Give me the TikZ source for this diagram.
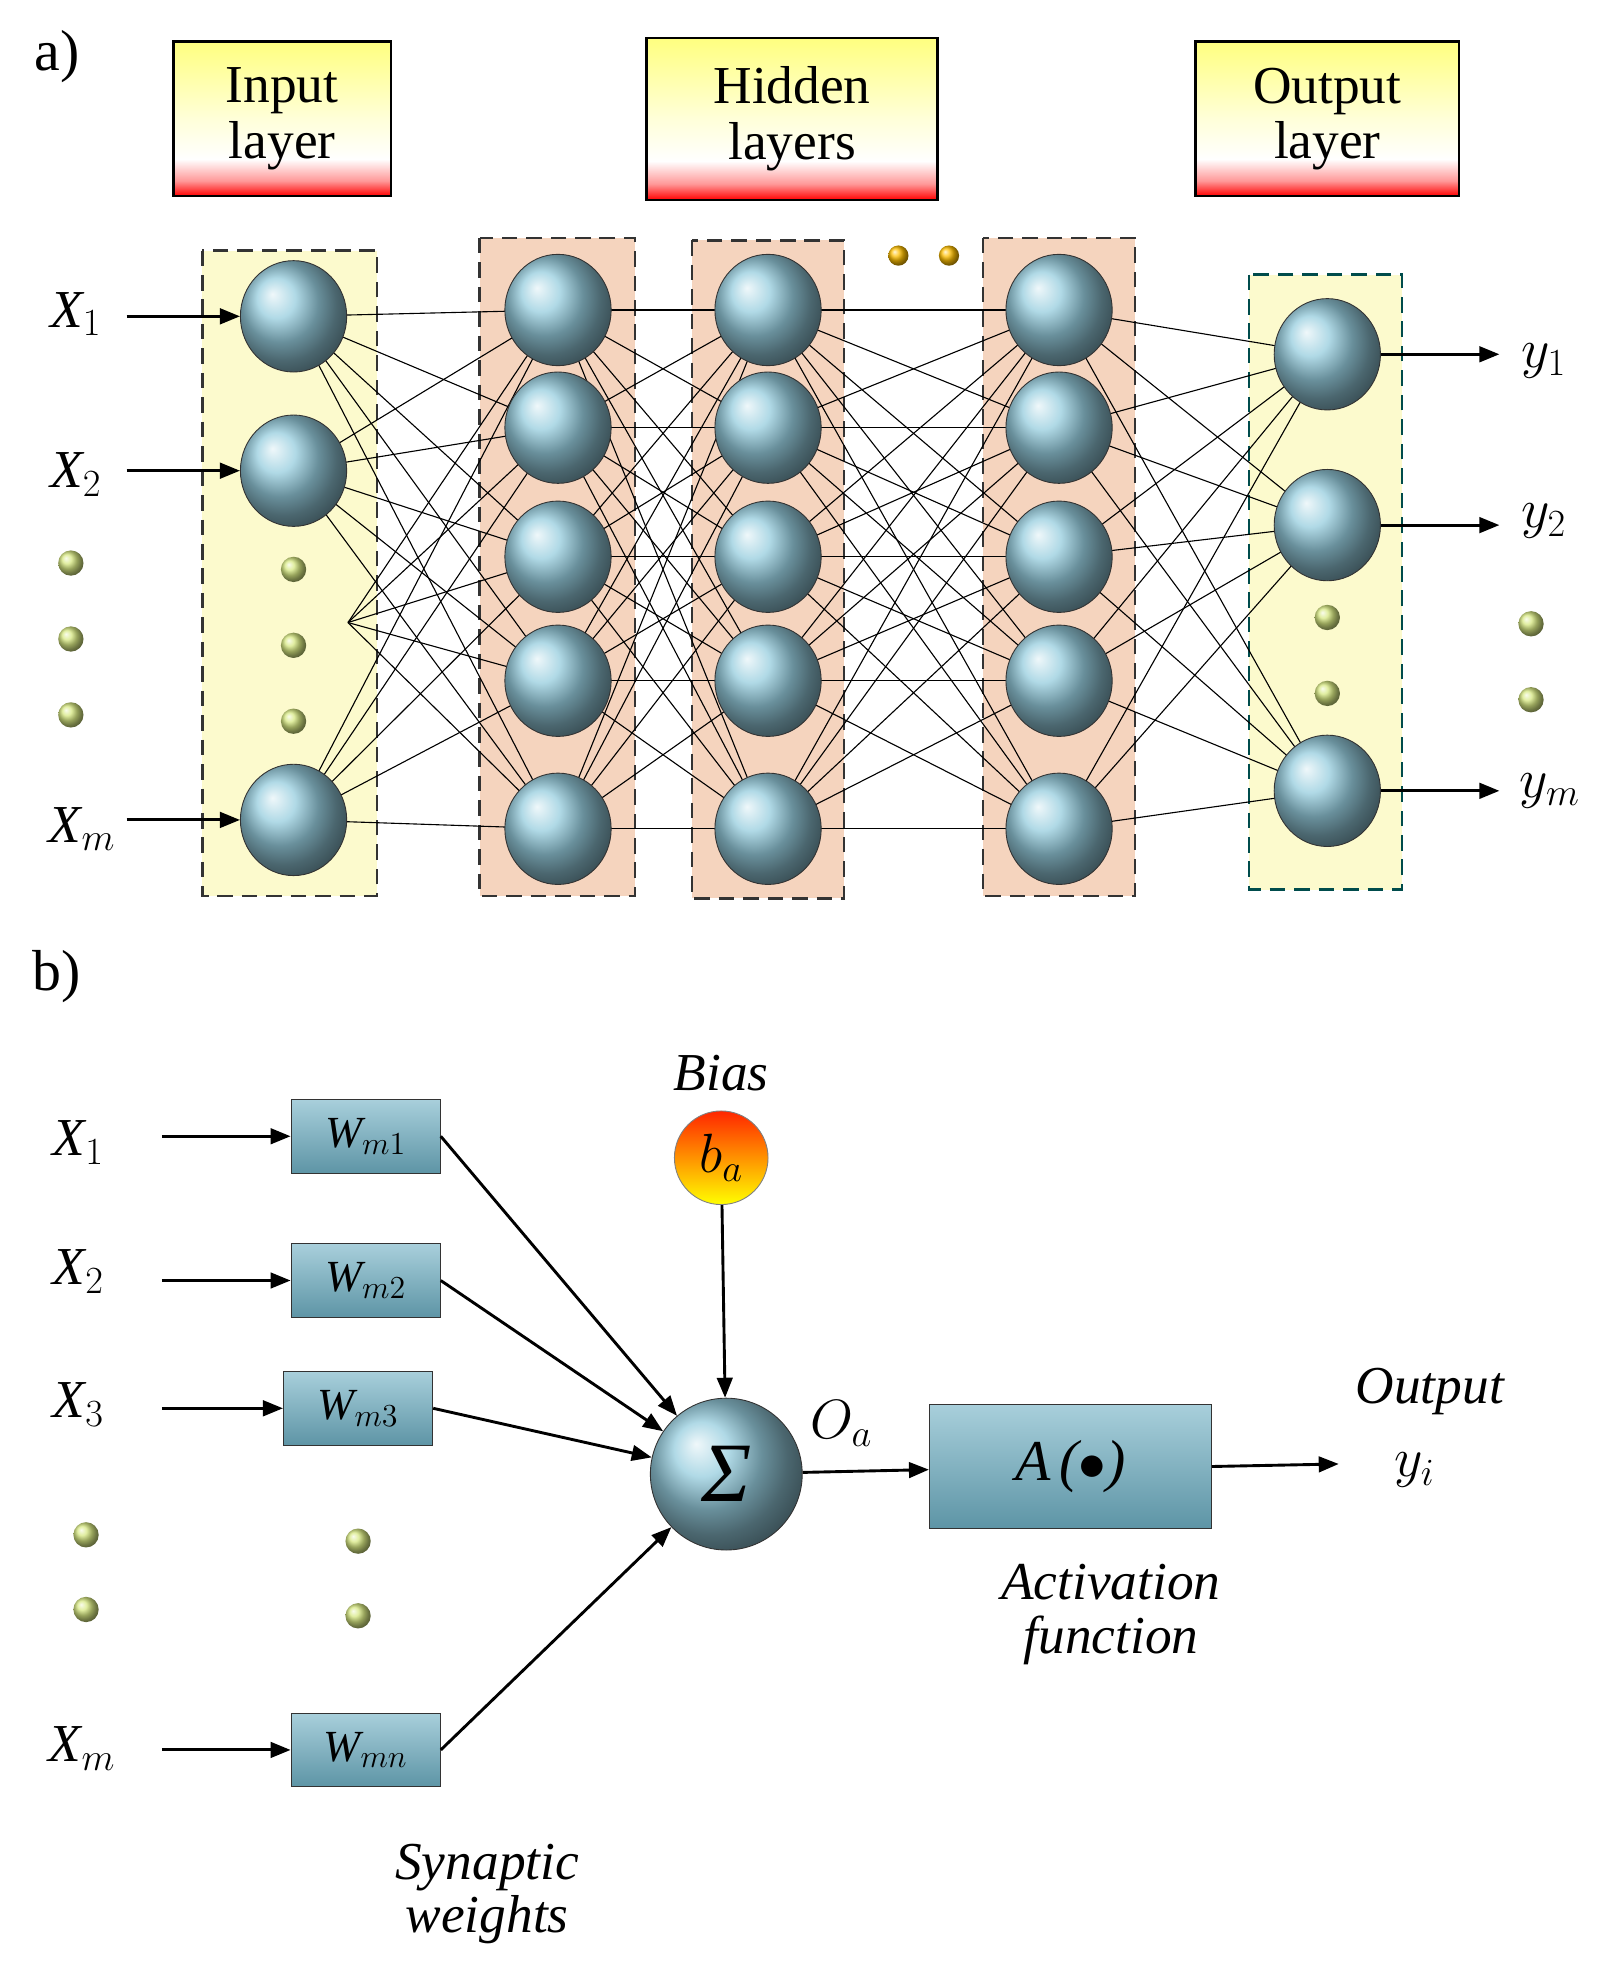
\documentclass[tikz,border=0pt]{standalone}
\usepackage{fontspec}
\setmainfont{Liberation Serif}
\usetikzlibrary{arrows.meta,shapes.geometric}
\definecolor{nb}{RGB}{150,205,222}
\definecolor{wb}{RGB}{110,175,195}
\definecolor{peach}{RGB}{245,212,190}
\definecolor{ly}{RGB}{252,250,205}
\definecolor{dotg}{RGB}{215,232,130}
\pgfdeclareverticalshading{hdrsh}{100bp}{color(0bp)=(red);color(25bp)=(red);color(30bp)=(red!40!white);color(37bp)=(white);color(50bp)=(yellow!15!white);color(75bp)=(yellow!50!white);color(100bp)=(yellow!50!white)}
\begin{document}
\begin{tikzpicture}[x=0.02cm,y=-0.02cm,
 neuron/.style={ellipse,minimum width=84*0.02cm,minimum height=88*0.02cm,draw=black!80,shading=ball,ball color=nb,inner sep=0},
 hdr/.style={draw=black,line width=1.2pt,shading=hdrsh,font=\fontsize{24}{25}\selectfont,align=center,inner sep=0},
 lay/.style={draw=black!80,dash pattern=on 7pt off 4pt,line width=1.1pt},
 gdot/.style={circle,minimum size=20*0.02cm,inner sep=0,shading=ball,ball color=dotg},
 odot/.style={circle,minimum size=16*0.02cm,inner sep=0,shading=ball,ball color=orange!50!yellow},
 lab/.style={font=\fontsize{24}{24}\selectfont\itshape},
 arr/.style={-{Triangle[length=9pt,width=7pt]},line width=1.3pt},
 conn/.style={line width=0.5pt},
 wbox/.style={draw=black!80,shading=axis,top color=wb!60!white,bottom color=wb!85!black,minimum width=118*0.02cm,minimum height=58*0.02cm,inner sep=0,font=\fontsize{20}{20}\selectfont\itshape}]
\useasboundingbox (0,0) rectangle (1270,1568);
% part a
\node[font=\fontsize{26}{26}\selectfont] (la) at (45,45) {a)};
\node[hdr,minimum width=172*0.02cm,minimum height=122*0.02cm] (h1) at (223,94) {Input\\layer};
\node[hdr,minimum width=230*0.02cm,minimum height=128*0.02cm] (h2) at (626,94) {Hidden\\layers};
\node[hdr,minimum width=208*0.02cm,minimum height=122*0.02cm] (h3) at (1049,94) {Output\\layer};
\draw[lay,fill=ly] (160,198) rectangle (298,708);
\draw[lay,fill=peach] (379,188) rectangle (502,708);
\draw[lay,fill=peach] (547,190) rectangle (667,710);
\draw[lay,fill=peach] (777,188) rectangle (897,708);
\draw[lay,draw=teal!60!black,fill=ly] (987,217) rectangle (1108,703);
\coordinate (imid) at (275,492);
\foreach \i/\y in {1/250,2/372,3/648} \coordinate (I\i) at (232,\y);
\foreach \i/\y in {1/245,2/338,3/440,4/538,5/655}{
 \coordinate (A\i) at (441,\y); \coordinate (B\i) at (607,\y); \coordinate (C\i) at (837,\y);}
\foreach \i/\y in {1/280,2/415,3/625} \coordinate (O\i) at (1049,\y);
\foreach \i in {1,2,3,4,5}{
 \foreach \j in {1,2,3} \draw[conn] (I\j) -- (A\i);
 \draw[conn] (imid) -- (A\i);
 \foreach \j in {1,...,5}{\draw[conn] (A\i) -- (B\j); \draw[conn] (B\i) -- (C\j);}
 \foreach \j in {1,2,3} \draw[conn] (C\i) -- (O\j);}
\foreach \i in {1,2,3} \node[neuron] (nI\i) at (I\i) {};
\foreach \i in {1,...,5}{\node[neuron] (nA\i) at (A\i) {};\node[neuron] (nB\i) at (B\i) {};\node[neuron] (nC\i) at (C\i) {};}
\foreach \i in {1,2,3} \node[neuron] (nO\i) at (O\i) {};
\foreach \y [count=\k] in {450,510,570} {\node[gdot] (d1\k) at (232,\y) {}; \node[gdot] (d2\k) at (56,\y-5) {};}
\node[gdot] (d31) at (1049,488) {}; \node[gdot] (d32) at (1049,548) {};
\node[gdot] (d41) at (1210,493) {}; \node[gdot] (d42) at (1210,553) {};
\node[odot] (o1) at (710,202) {}; \node[odot] (o2) at (750,202) {};
\node[lab] (x1) at (60,248) {X$_1$};
\node[lab] (x2) at (60,375) {X$_2$};
\node[lab] (xm) at (65,655) {X$_m$};
\coordinate (x1s) at (100,250); \coordinate (x2s) at (100,372); \coordinate (xms) at (100,648);
\draw[arr] (x1s) -- (nI1); \draw[arr] (x2s) -- (nI2); \draw[arr] (xms) -- (nI3);
\node[lab] (y1) at (1220,285) {$y_1$};
\node[lab] (y2) at (1220,412) {$y_2$};
\node[lab] (ym) at (1225,625) {$y_m$};
\coordinate (y1e) at (1185,280); \coordinate (y2e) at (1185,415); \coordinate (yme) at (1185,625);
\draw[arr] (nO1) -- (y1e); \draw[arr] (nO2) -- (y2e); \draw[arr] (nO3) -- (yme);
% part b
\node[font=\fontsize{26}{26}\selectfont] (lb) at (45,772) {b)};
\node[lab] (bx1) at (62,903) {X$_1$};
\node[lab] (bx2) at (62,1005) {X$_2$};
\node[lab] (bx3) at (62,1110) {X$_3$};
\node[lab] (bxm) at (65,1382) {X$_m$};
\node[wbox] (w1) at (289,898) {W$_{m1}$};
\node[wbox] (w2) at (289,1012) {W$_{m2}$};
\node[wbox] (w3) at (283,1113) {W$_{m3}$};
\node[wbox] (wn) at (289,1383) {W$_{mn}$};
\coordinate (s1) at (128,898); \coordinate (s2) at (128,1012); \coordinate (s3) at (128,1113); \coordinate (sm) at (128,1383);
\draw[arr] (s1) -- (w1); \draw[arr] (s2) -- (w2); \draw[arr] (s3) -- (w3); \draw[arr] (sm) -- (wn);
\node[gdot] (e1) at (68,1213) {}; \node[gdot] (e2) at (68,1272) {};
\node[gdot] (e3) at (283,1218) {}; \node[gdot] (e4) at (283,1277) {};
\node[circle,minimum size=120*0.02cm,draw=black!80,shading=ball,ball color=nb,inner sep=0,font=\fontsize{38}{38}\selectfont\itshape] (sig) at (574,1165) {Σ};
\node[lab] (bias) at (570,848) {Bias};
\node[circle,minimum size=74*0.02cm,draw=black!50,shading=axis,top color=red!70!orange,bottom color=yellow,inner sep=0,font=\fontsize{24}{24}\selectfont\itshape] (ba) at (570,915) {$b_a$};
\draw[arr] (ba) -- (sig);
\draw[arr] (w1.east) -- (sig);
\draw[arr] (w2.east) -- (sig);
\draw[arr] (w3.east) -- (sig);
\draw[arr] (wn.east) -- (sig);
\node[lab] (oa) at (665,1125) {$O_a$};
\node[draw=black!80,shading=axis,top color=wb!60!white,bottom color=wb!85!black,minimum width=223*0.02cm,minimum height=98*0.02cm,font=\fontsize{26}{26}\selectfont\itshape] (act) at (846,1159) {A$\,$($\bullet$)};
\draw[arr] (sig) -- (act);
\coordinate (oe) at (1058,1157);
\draw[arr] (act.east) -- (oe);
\node[lab] (outl) at (1130,1100) {Output};
\node[lab] (yi) at (1118,1162) {$y_i$};
\node[lab,align=center] (actl) at (878,1276) {Activation\\function};
\node[lab,align=center] (synl) at (385,1497) {Synaptic\\weights};
\end{tikzpicture}
\end{document}
